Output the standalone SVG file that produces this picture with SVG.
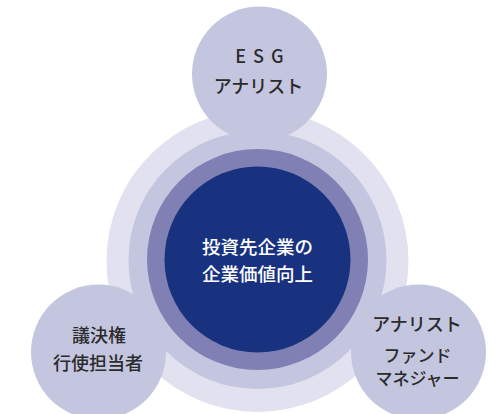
<svg xmlns="http://www.w3.org/2000/svg" width="496" height="414" viewBox="0 0 496 414">
<style>
.lbl{font-family:"Noto Sans CJK JP","Noto Sans",sans-serif;font-size:18px;font-weight:500;fill:#2b2b2b;text-anchor:middle}
.sm{font-size:17px}
.ctr{font-family:"Noto Sans CJK JP","Noto Sans",sans-serif;font-size:18.5px;font-weight:500;fill:#ffffff;text-anchor:middle}
.sat{fill:#c4c6e0}
</style>
<rect width="496" height="414" fill="#ffffff"/>
<g id="rings">
<circle cx="257.5" cy="261" r="151" fill="#e1e1ef"/>
<circle cx="257.5" cy="260" r="129" fill="#c4c6e0"/>
<circle cx="257.5" cy="259.5" r="110.5" fill="#8080b4"/>
</g>
<g id="connectors"></g>
<g id="center">
<circle cx="257.5" cy="259.5" r="93" fill="#193280"/>
<text class="ctr" x="257.5" y="254">投資先企業の</text>
<text class="ctr" x="257.5" y="281">企業価値向上</text>
</g>
<g id="esg">
<circle class="sat" cx="259.5" cy="74" r="67.5"/>
<text class="lbl" x="263" y="63" style="letter-spacing:7px">ESG</text>
<text class="lbl" x="258.5" y="93">アナリスト</text>
</g>
<g id="vote">
<circle class="sat" cx="98.5" cy="352" r="67.5"/>
<text class="lbl" x="99" y="342">議決権</text>
<text class="lbl" x="98" y="370">行使担当者</text>
</g>
<g id="fund">
<circle class="sat" cx="418.5" cy="352" r="67.5"/>
<text class="lbl" x="417" y="331">アナリスト</text>
<text class="lbl sm" x="417.5" y="362">ファンド</text>
<text class="lbl sm" x="417.5" y="385">マネジャー</text>
</g>
</svg>
